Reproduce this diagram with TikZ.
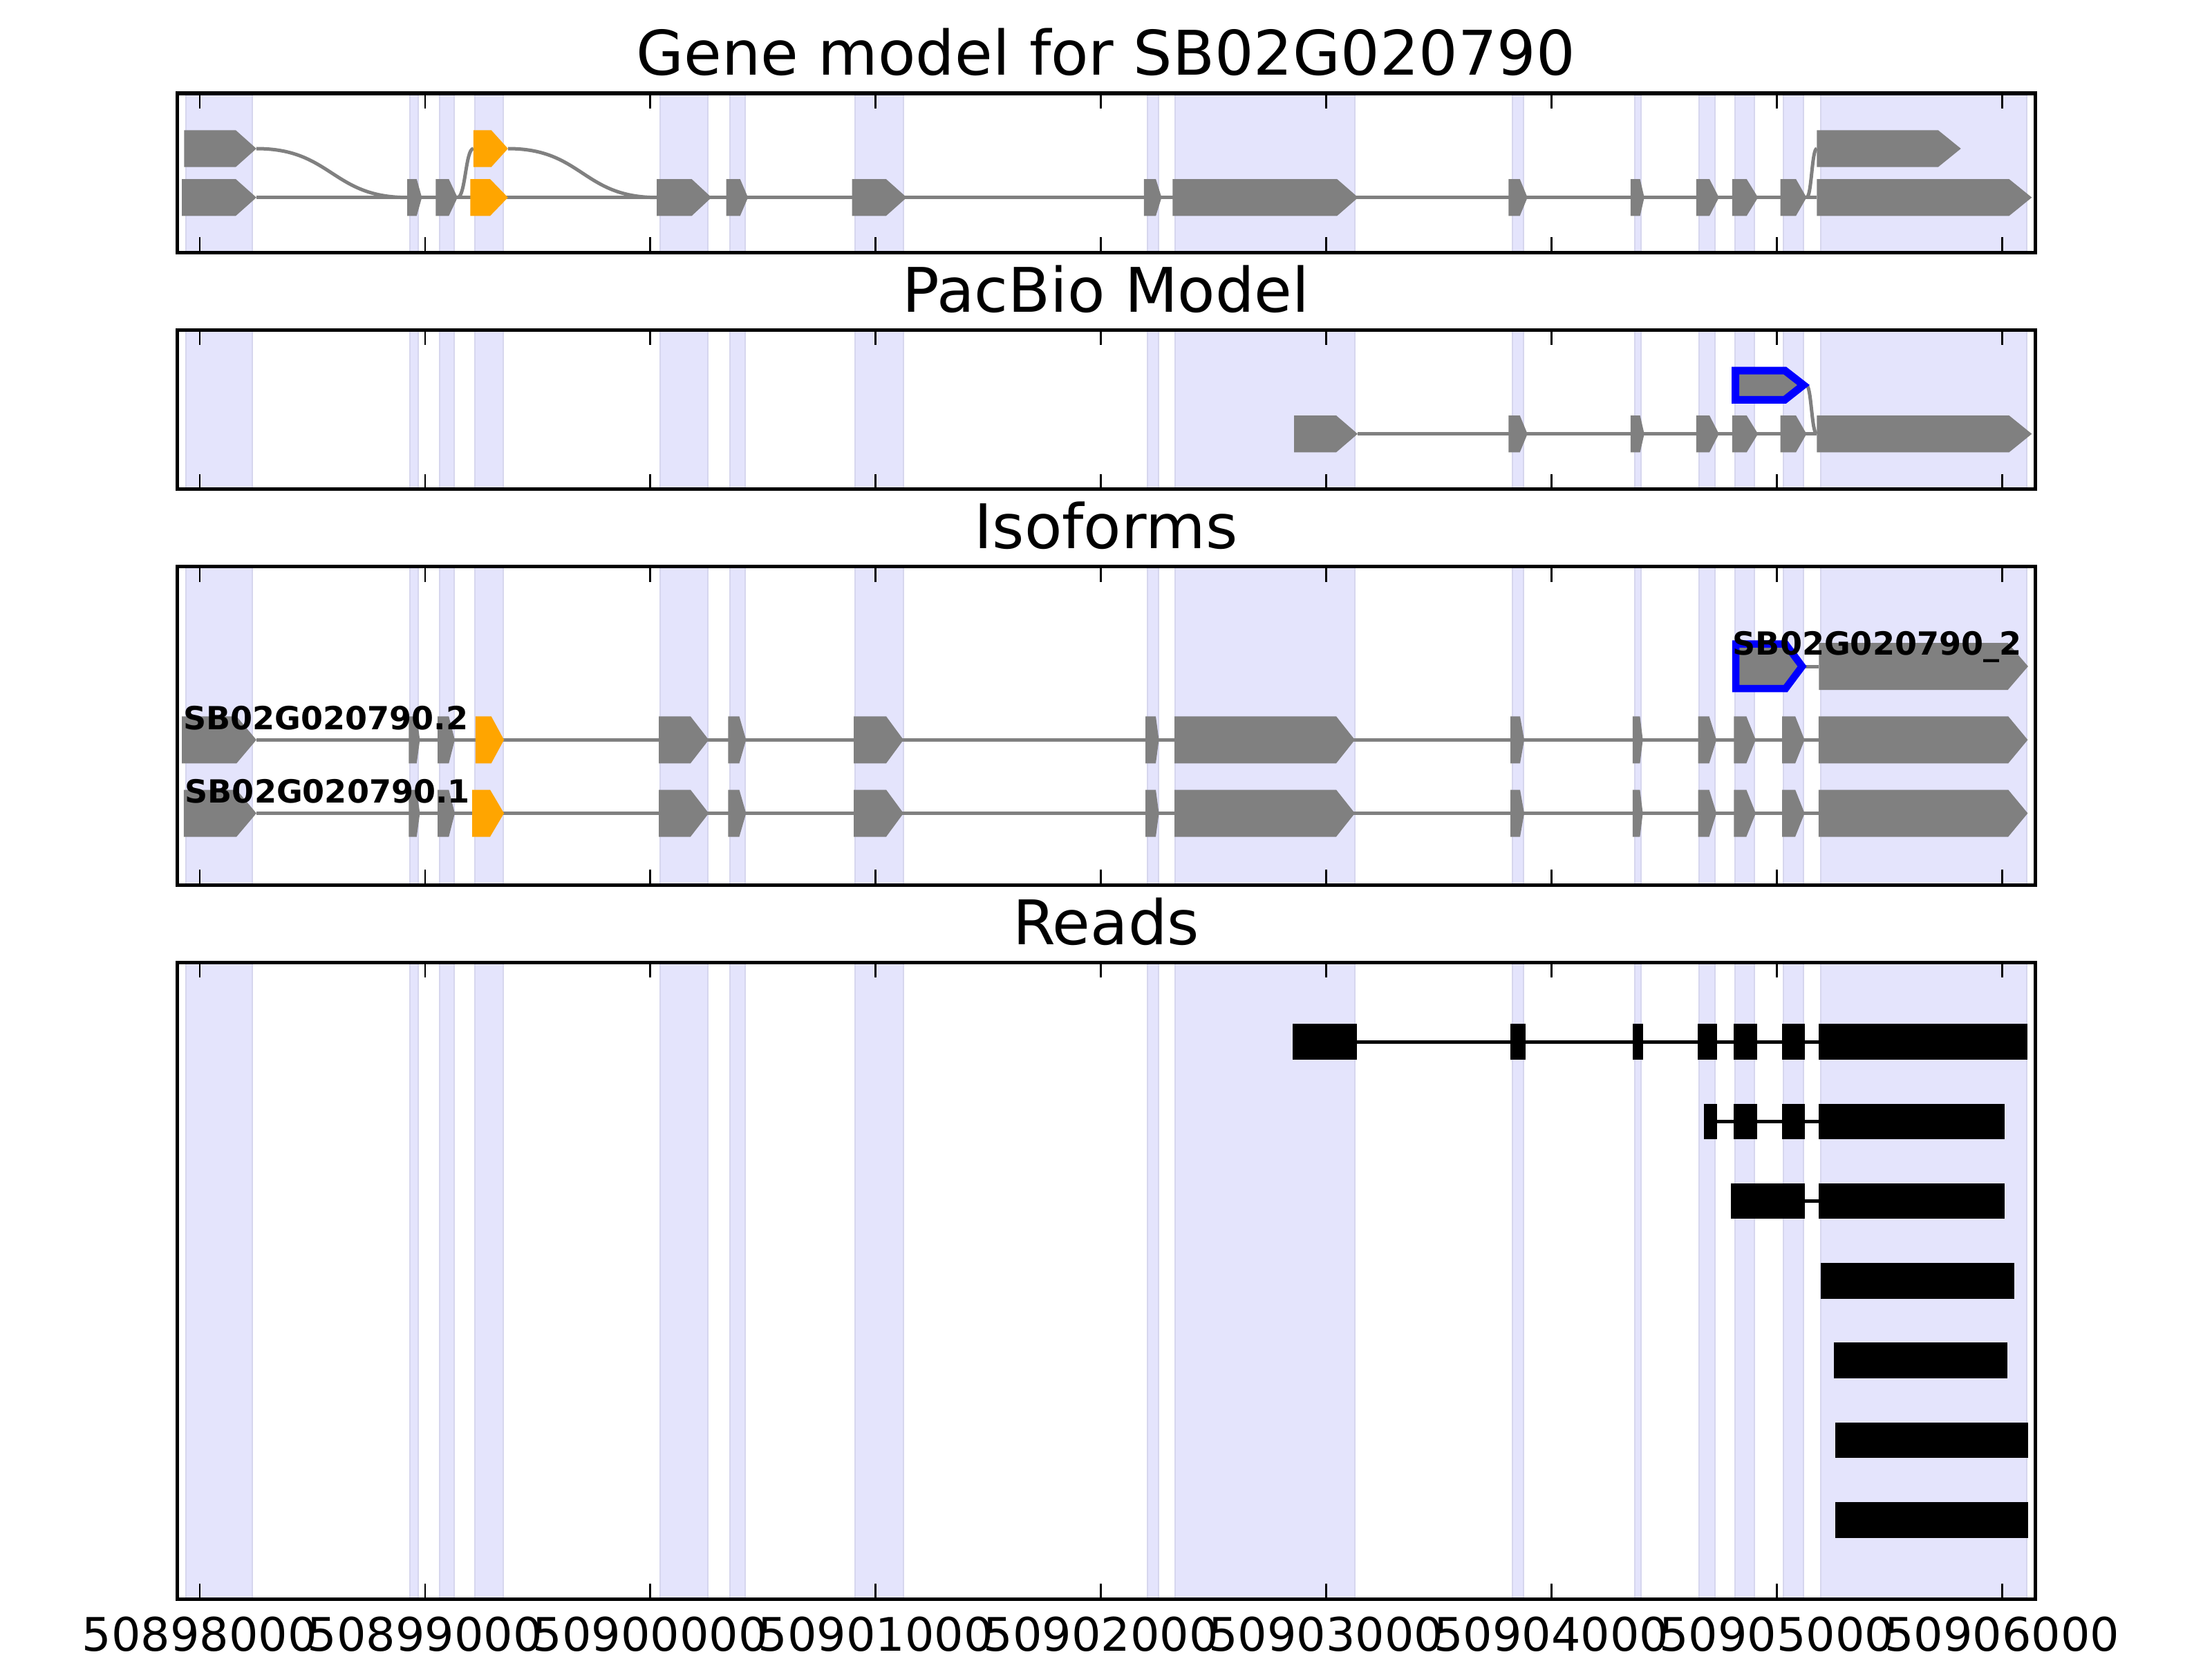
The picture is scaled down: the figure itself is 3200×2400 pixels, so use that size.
\documentclass[tikz,border=0pt]{standalone}
\usepackage{fontspec}
\setmainfont{DejaVu Sans}
\definecolor{exongray}{RGB}{128,128,128}
\definecolor{exonorange}{RGB}{255,165,0}
\definecolor{bandfill}{RGB}{228,228,252}
\definecolor{bandedge}{RGB}{214,214,238}
\tikzset{
  band/.style={fill=bandfill, draw=bandedge, line width=0.025cm},
  exon/.style={fill=exongray},
  altexon/.style={fill=exonorange},
  pacbio/.style={fill=exongray, draw=blue, line join=miter},
  intron/.style={draw=exongray, line width=0.05cm},
  readblock/.style={fill=black},
  readline/.style={draw=black, line width=0.05cm},
  axframe/.style={draw=black, line width=0.05cm},
  axtick/.style={draw=black, line width=0.028cm},
  paneltitle/.style={font=\fontsize{25.3}{30}\selectfont, anchor=base, inner sep=0},
  ticklab/.style={font=\fontsize{19}{22}\selectfont, anchor=base, inner sep=0},
  isolab/.style={font=\fontsize{13.1}{15}\selectfont\bfseries, anchor=base west, inner sep=0}
}
% exon: [style]{start}{head}{tip}{row}
\newcommand{\exon}[5][]{%
  \fill[exon,#1] (#2,#5-\hh) -- (#3,#5-\hh) -- (#4,#5) -- (#3,#5+\hh) -- (#2,#5+\hh) -- cycle;}
\def\bands{269/365, 593/605, 636/657, 687/728, 955/1024, 1056/1078, 1237/1307, 1660/1676,
  1700/1960, 2188/2204, 2365/2374, 2458/2481, 2510/2538, 2580/2609, 2634/2932}
\def\panels{135/365.3, 477.3/707.5, 819.5/1280, 1392/2313}
\def\isoexons{591.3/602.8/607.4, 633.2/649.3/657.9, 953/998.9/1025.3, 1053.4/1069.5/1079.3,
  1235/1282/1307, 1657/1672/1676.5, 1699/1933/1960, 2185/2199/2205, 2361.9/2372.4/2376.6,
  2456.6/2472.6/2483.1, 2508.3/2526.4/2539.9, 2578.2/2597.1/2610.6, 2630.8/2905.2/2933.4}
\begin{document}
\begin{tikzpicture}[x=0.01cm, y=-0.01cm]
\fill[white] (0,0) rectangle (3200,2400);
\useasboundingbox (0,0) rectangle (3200,2400);
% bandes
\foreach \ya/\yb in \panels {
  \foreach \a/\b in \bands \filldraw[band] (\a,\ya) rectangle (\b,\yb);
}
% titres
\node[paneltitle] (t1) at (1600,109) {Gene model for SB02G020790};
\node[paneltitle] (t2) at (1600,451.3) {PacBio Model};
\node[paneltitle] (t3) at (1600,793.5) {Isoforms};
\node[paneltitle] (t4) at (1600,1366) {Reads};
% modele du gene
\def\hh{26.65}
\draw[intron] (370.9,285.7) -- (2628.3,285.7);
\draw[intron] (370.9,215) .. controls (480,215) and (480,285.7) .. (589,285.7);
\draw[intron] (661.9,285.7) .. controls (673.4,285.7) and (673.4,215) .. (684.9,215);
\draw[intron] (734.8,215) .. controls (842.5,215) and (842.5,285.7) .. (950.1,285.7);
\draw[intron] (2613.4,285.7) .. controls (2620.9,285.7) and (2620.9,215) .. (2628.3,215);
\foreach \a/\b/\c in {263/341/370.9, 589/602.8/610.3, 630.4/649.3/661.9, 950.1/1000.6/1029.3,
  1050.6/1070.7/1082.1, 1232.7/1281.8/1311.7, 1654.8/1672.1/1680.4, 1696.3/1934.2/1964.8,
  2182.3/2198.7/2209.7, 2358.9/2372.6/2378.7, 2453.8/2473/2486.7, 2505.9/2526.8/2543.2,
  2575.6/2598.1/2613.4, 2628.3/2906.4/2939.3}
  \exon{\a}{\b}{\c}{285.7};
\exon[altexon]{680.3}{709}{734.8}{285.7}
\exon{266.4}{341}{370.9}{215}
\exon[altexon]{684.9}{710.7}{734.8}{215}
\exon{2628.3}{2803.8}{2836.7}{215}
% PacBio
\draw[intron] (1964,627.7) -- (2628.3,627.7);
\draw[intron] (2613,557) .. controls (2620.6,557) and (2620.6,627.7) .. (2628.3,627.7);
\foreach \a/\b/\c in {1872/1933/1964, 2182.3/2198.7/2209.7, 2358.9/2372.6/2378.7,
  2453.8/2473/2486.7, 2505.9/2526.8/2543.2, 2575.6/2598.1/2613.4, 2628.3/2906.4/2939.3}
  \exon{\a}{\b}{\c}{627.7};
\filldraw[pacbio, line width=0.11cm] (2510.5,536) -- (2582,536) -- (2609,557)
  -- (2582,578.3) -- (2510.5,578.3) -- cycle;
% isoformes
\def\hh{34}
\draw[intron] (2607,964) -- (2631.4,964);
\exon{2631.4}{2904.6}{2933.9}{964}
\filldraw[pacbio, line width=0.105cm] (2511,931.7) -- (2583,931.7) -- (2607,964)
  -- (2583,996.2) -- (2511,996.2) -- cycle;
\draw[intron] (370.9,1070.3) -- (2630.8,1070.3);
\draw[intron] (370.9,1176.5) -- (2630.8,1176.5);
\foreach \a/\b/\c in \isoexons {
  \exon{\a}{\b}{\c}{1070.3}
  \exon{\a}{\b}{\c}{1176.5}
}
\exon{263}{342.2}{370.9}{1070.3}
\exon[altexon]{687.8}{710.7}{729.1}{1070.3}
\exon{265.8}{342.2}{370.9}{1176.5}
\exon[altexon]{683.2}{709}{729.1}{1176.5}
\node[isolab] (iso3) at (2506,947) {SB02G020790\_2};
\node[isolab] (iso2) at (264.6,1055) {SB02G020790.2};
\node[isolab] (iso1) at (267,1161) {SB02G020790.1};
% lectures
\def\rh{25.75}
\foreach \y/\s/\e/\blocks in {
  1507/1870.3/2933.1/{1870.3/1962.7, 2184.6/2206.8, 2362.1/2376.9, 2456.1/2484.2,
    2507.8/2541.9, 2578.1/2611.4, 2631.4/2933.1},
  1622.3/2464.9/2899.8/{2464.9/2484.2, 2507.8/2541.9, 2578.1/2611.4, 2631.4/2899.8},
  1737.6/2504.1/2899.8/{2504.1/2611.4, 2631.4/2899.8},
  1852.9/2633.6/2913.9/{2633.6/2913.9},
  1968.2/2653.3/2903.7/{2653.3/2903.7},
  2083.5/2655.3/2933.7/{2655.3/2933.7},
  2198.8/2655.3/2933.7/{2655.3/2933.7}} {
  \draw[readline] (\s,\y) -- (\e,\y);
  \foreach \a/\b in \blocks \fill[readblock] (\a,\y-\rh) rectangle (\b,\y+\rh);
}
% cadres et graduations
\foreach \ya/\yb in \panels {
  \draw[axframe] (256,\ya) rectangle (2944,\yb);
  \foreach \k in {0,...,8} {
    \draw[axtick] (289+325.9*\k,\ya) -- ++(0,22);
    \draw[axtick] (289+325.9*\k,\yb) -- ++(0,-22);
  }
}
\foreach \lab [count=\k from 0] in {50898000, 50899000, 50900000, 50901000, 50902000,
  50903000, 50904000, 50905000, 50906000}
  \node[ticklab] (xl\k) at (289+325.9*\k,2388) {\lab};
\end{tikzpicture}
\end{document}
